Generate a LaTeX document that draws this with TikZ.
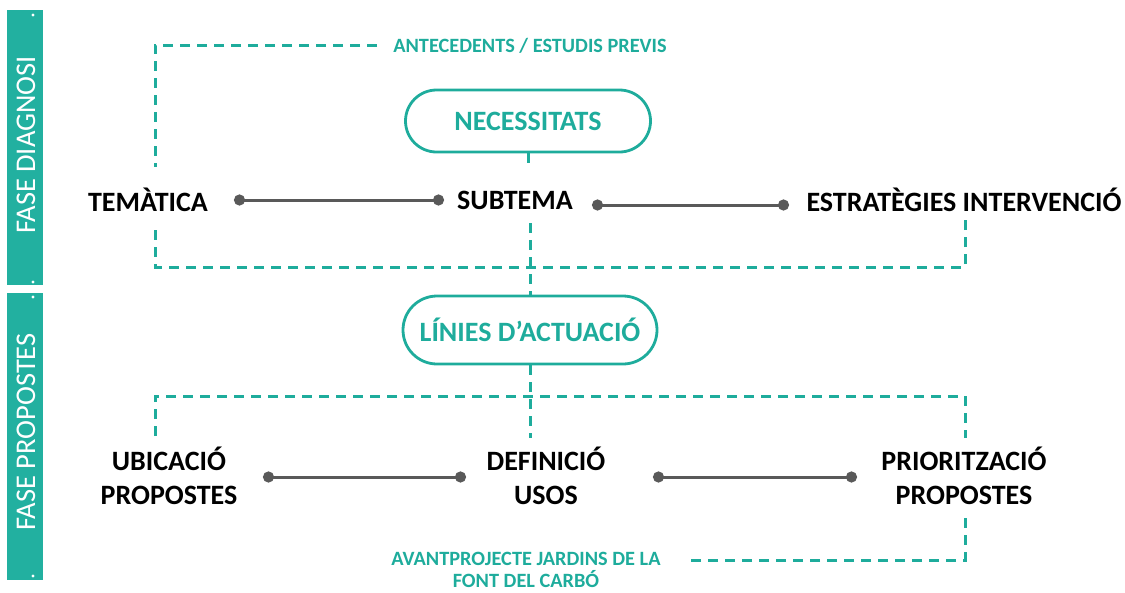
\documentclass[tikz,border=0pt]{standalone}
\usepackage{fontspec}
\setmainfont{Carlito}
\usetikzlibrary{arrows.meta}
\definecolor{teal1}{RGB}{30,172,156}
\definecolor{bartl}{RGB}{34,176,160}
\definecolor{gline}{RGB}{89,89,89}
\begin{document}
\begin{tikzpicture}[x=1pt,y=-1pt,
 bar/.style={fill=bartl,draw=none},
 bartext/.style={rotate=90,text=white,font=\fontsize{28.5}{32}\selectfont,inner sep=0pt},
 wdot/.style={fill=white,draw=none},
 dline/.style={draw=teal1,line width=3pt,dash pattern=on 10pt off 7pt},
 pill/.style={draw=teal1,line width=2.8pt,rounded corners=31pt,minimum width=245pt,minimum height=62pt,text=teal1,font=\fontsize{28}{30}\selectfont\bfseries},
 lbl/.style={text=black,font=\fontsize{28}{33.5}\selectfont\bfseries,align=center,inner sep=0pt},
 tlbl/.style={text=teal1,font=\fontsize{20.3}{22.5}\selectfont\bfseries,align=center,inner sep=0pt},
 conn/.style={draw=gline,line width=3pt,{Circle[length=11pt]}-{Circle[length=11pt]}},
]
\useasboundingbox (0,0) rectangle (1125,592);
% side bars
\fill[bar] (7,10) rectangle (43,285);
\fill[bar] (7,293) rectangle (43,580);
\node[bartext] (fd) at (26,145) {FASE DIAGNOSI};
\node[bartext] (fp) at (26,432) {FASE PROPOSTES};
\foreach \yy in {15,282,297,576} \fill[wdot] (33,\yy) circle (1.6);
% teal labels
\node[tlbl] (ante) at (530,46) {ANTECEDENTS / ESTUDIS PREVIS};
\node[tlbl] (avan) at (526,570) {AVANTPROJECTE JARDINS DE LA\\FONT DEL CARBÓ};
% pills
\node[pill] (nec) at (528,121) {NECESSITATS};
\node[pill,minimum width=254pt,minimum height=68pt,rounded corners=34pt] (lin) at (530,330) {LÍNIES D’ACTUACIÓ};
% black labels
\node[lbl] (tem) at (148,200) {TEMÀTICA};
\node[lbl] (sub) at (515,200) {SUBTEMA};
\node[lbl] (est) at (964,200) {ESTRATÈGIES INTERVENCIÓ};
\node[lbl] (ubi) at (169,476) {UBICACIÓ\\PROPOSTES};
\node[lbl] (def) at (546,476) {DEFINICIÓ\\USOS};
\node[lbl] (pri) at (964,476) {PRIORITZACIÓ\\PROPOSTES};
% coordinates
\coordinate (t1) at (377,45);
\coordinate (t2) at (155,45);
\coordinate (t3) at (155,167);
\coordinate (t4) at (155,230);
\coordinate (t5) at (155,267);
\coordinate (t6) at (965,267);
\coordinate (t7) at (965,220);
\coordinate (n1) at (528,165);
\coordinate (n2) at (530,223);
\coordinate (b1) at (530,438);
\coordinate (b2) at (155,436);
\coordinate (b3) at (155,396);
\coordinate (b4) at (965,396);
\coordinate (b5) at (965,438);
\coordinate (b6) at (965,518);
\coordinate (b7) at (965,560);
\coordinate (b8) at (688,560);
% dashed frames
\draw[dline] (t1) -- (t2) -- (t3);
\draw[dline] (t4) -- (t5) -- (t6) -- (t7);
\draw[dline] (nec.south) -- (n1);
\draw[dline] (n2) -- (lin.north);
\draw[dline] (lin.south) -- (b1);
\draw[dline] (b2) -- (b3) -- (b4) -- (b5);
\draw[dline] (b6) -- (b7) -- (b8);
% gray connectors
\coordinate (g1) at (234,200);
\coordinate (g2) at (444,200);
\coordinate (g3) at (592,205);
\coordinate (g4) at (789,205);
\coordinate (g5) at (263,477);
\coordinate (g6) at (466,477);
\coordinate (g7) at (653,477);
\coordinate (g8) at (857,477);
\draw[conn] (g1) -- (g2);
\draw[conn] (g3) -- (g4);
\draw[conn] (g5) -- (g6);
\draw[conn] (g7) -- (g8);
\end{tikzpicture}
\end{document}
